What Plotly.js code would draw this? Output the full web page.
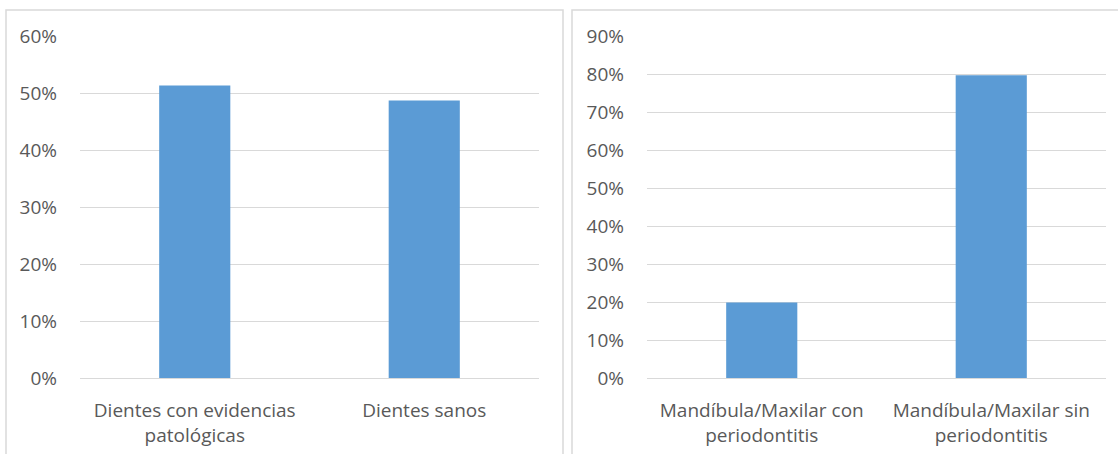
<!DOCTYPE html>
<html>
<head>
<meta charset="utf-8">
<script src="https://cdn.plot.ly/plotly-3.0.1.min.js"></script>
<style>html,body{margin:0;padding:0;background:#fff;}#chart{width:1118px;height:454px;}</style>
</head>
<body>
<div id="chart"></div>
<script>
const categoriesLeft = ["Dientes con evidencias<br>patológicas", "Dientes sanos"];
const valuesLeft = [0.513, 0.487];
const categoriesRight = ["Mandíbula/Maxilar con<br>periodontitis", "Mandíbula/Maxilar sin<br>periodontitis"];
const valuesRight = [0.199, 0.797];

const W = 1118, H = 454;
const px = v => v / W;
const py = v => 1 - v / H;

const barColor = "#5b9bd5";
const gridColor = "#d9d9d9";
const textColor = "#595959";
const fontFamily = "'Open Sans', 'Liberation Sans', sans-serif";

const traces = [
  {type: "bar", x: categoriesLeft, y: valuesLeft, xaxis: "x", yaxis: "y",
   marker: {color: barColor}, hoverinfo: "none"},
  {type: "bar", x: categoriesRight, y: valuesRight, xaxis: "x2", yaxis: "y2",
   marker: {color: barColor}, hoverinfo: "none"}
];

const yCommon = {
  tickformat: ".0%", dtick: 0.1, showgrid: true, gridcolor: gridColor, gridwidth: 1,
  zeroline: true, zerolinecolor: gridColor, zerolinewidth: 1, showline: false,
  ticks: "", ticklabelstandoff: 22, tickfont: {family: fontFamily, size: 19, color: textColor},
  fixedrange: true
};
const xCommon = {
  showgrid: false, zeroline: false, showline: false, ticks: "",
  tickfont: {family: fontFamily, size: 19, color: textColor}, ticklabelstandoff: 19,
  fixedrange: true
};

const layout = {
  width: W, height: H,
  margin: {l: 0, r: 0, t: 0, b: 0},
  paper_bgcolor: "#ffffff", plot_bgcolor: "rgba(0,0,0,0)",
  showlegend: false,
  bargap: 0.69,
  xaxis: Object.assign({}, xCommon, {domain: [px(80), px(539)], anchor: "y"}),
  yaxis: Object.assign({}, yCommon, {domain: [py(378), py(36)], range: [0, 0.6], anchor: "x"}),
  xaxis2: Object.assign({}, xCommon, {domain: [px(647), px(1106)], anchor: "y2"}),
  yaxis2: Object.assign({}, yCommon, {domain: [py(378), py(36)], range: [0, 0.9], anchor: "x2"}),
  shapes: [
    {type: "rect", xref: "paper", yref: "paper", x0: px(6), x1: px(563), y0: py(470), y1: py(10),
     line: {color: gridColor, width: 1.5}, layer: "below"},
    {type: "rect", xref: "paper", yref: "paper", x0: px(572), x1: px(1130), y0: py(470), y1: py(10),
     line: {color: gridColor, width: 1.5}, layer: "below"}
  ]
};

Plotly.newPlot("chart", traces, layout, {displayModeBar: false, staticPlot: true});
</script>
</body>
</html>
